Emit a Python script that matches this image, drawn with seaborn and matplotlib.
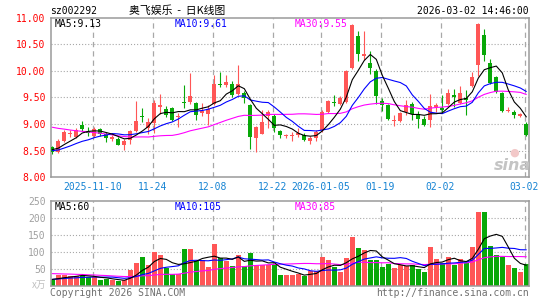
import numpy as np
import pandas as pd
import matplotlib
matplotlib.use("Agg")
import matplotlib.pyplot as plt
import seaborn as sns

# ---------------- data ----------------
tick_labels = ['2025-11-10', '11-24', '12-08', '12-22', '2026-01-05', '01-19', '02-02', '03-02']
tick_index = [7, 17, 27, 37, 45, 55, 65, 79]

opens = [8.56, 8.47, 8.68, 8.81, 8.76, 8.99, 8.86, 8.78, 8.90, 8.81,
         8.71, 8.72, 8.61, 8.70, 8.87, 9.15, 8.93, 9.02, 9.32, 9.28,
         9.30, 9.13, 9.41, 9.42, 9.40, 9.20, 9.18, 9.38, 9.76, 9.74,
         9.76, 9.57, 9.58, 9.35, 8.73, 8.82, 9.15, 9.16, 8.86, 8.77,
         8.78, 8.80, 8.80, 8.69, 8.74, 8.88, 9.23, 9.41, 9.38, 9.42,
         10.06, 10.65, 10.27, 10.14, 9.99, 9.43, 9.35, 9.05, 9.05, 9.23,
         9.38, 9.18, 9.09, 9.08, 9.32, 9.30, 9.38, 9.54, 9.40, 9.48,
         9.71, 10.10, 10.68, 10.15, 9.88, 9.59, 9.24, 9.23, 9.16, 9.00]
highs = [8.59, 8.71, 8.88, 8.89, 8.93, 9.05, 8.94, 8.95, 8.93, 8.85,
         8.79, 8.76, 8.71, 8.89, 9.44, 9.30, 9.12, 9.45, 9.57, 9.33,
         9.32, 9.20, 9.73, 9.96, 9.42, 9.40, 9.35, 9.92, 9.97, 9.92,
         9.80, 10.10, 9.62, 9.38, 8.96, 9.26, 9.26, 9.18, 8.88, 8.82,
         8.85, 8.92, 8.84, 8.78, 8.88, 9.26, 9.45, 9.54, 9.53, 10.01,
         10.88, 10.75, 10.74, 10.37, 10.03, 9.49, 9.38, 9.17, 9.23, 9.45,
         9.42, 9.25, 9.16, 9.56, 9.40, 9.55, 9.66, 9.66, 9.72, 9.64,
         9.97, 10.89, 10.79, 10.22, 9.91, 9.61, 9.32, 9.27, 9.20, 9.04]
lows = [8.44, 8.45, 8.67, 8.75, 8.73, 8.86, 8.77, 8.75, 8.78, 8.66,
        8.68, 8.60, 8.51, 8.62, 8.85, 9.03, 8.82, 8.84, 9.19, 9.14,
        9.05, 8.95, 9.30, 9.38, 9.07, 9.16, 8.98, 9.35, 9.69, 9.70,
        9.50, 9.55, 9.40, 8.53, 8.47, 8.81, 8.92, 8.85, 8.73, 8.74,
        8.69, 8.76, 8.68, 8.63, 8.68, 8.85, 9.20, 9.34, 9.36, 9.40,
        10.03, 10.19, 10.20, 9.93, 9.37, 9.25, 9.08, 8.97, 9.03, 9.17,
        9.08, 8.93, 8.96, 8.94, 9.22, 9.22, 9.36, 9.32, 9.38, 9.17,
        9.70, 9.90, 10.19, 9.76, 9.59, 9.23, 9.22, 9.11, 9.13, 8.78]
closes = [8.47, 8.68, 8.85, 8.84, 8.88, 8.91, 8.83, 8.90, 8.82, 8.74,
          8.76, 8.61, 8.68, 8.87, 9.05, 9.13, 9.04, 9.40, 9.36, 9.17,
          9.08, 9.16, 9.39, 9.53, 9.17, 9.24, 9.29, 9.75, 9.74, 9.79,
          9.55, 9.76, 9.48, 8.75, 8.94, 9.04, 9.23, 8.92, 8.79, 8.79,
          8.80, 8.84, 8.70, 8.73, 8.85, 9.23, 9.43, 9.39, 9.49, 9.99,
          10.86, 10.31, 10.32, 10.05, 9.53, 9.36, 9.10, 9.07, 9.20, 9.35,
          9.18, 9.10, 8.99, 9.34, 9.36, 9.26, 9.59, 9.51, 9.58, 9.46,
          9.89, 10.87, 10.30, 9.77, 9.61, 9.25, 9.27, 9.17, 9.18, 8.80]
volumes = [15, 32, 32, 29, 27, 29, 25, 25, 15, 19,
           15, 13, 15, 45, 65, 84, 60, 99, 90, 52,
           35, 35, 108, 108, 72, 75, 54, 123, 80, 72,
           57, 90, 57, 96, 60, 60, 60, 60, 30, 30,
           30, 34, 29, 42, 42, 85, 75, 55, 39, 82,
           142, 112, 105, 75, 75, 55, 64, 52, 60, 57,
           59, 49, 39, 114, 77, 67, 84, 60, 77, 65,
           114, 217, 217, 116, 90, 84, 60, 52, 40, 62]
# sessions before the visible window (needed for the moving averages)
prev_closes = [9.32, 9.28, 9.35, 9.30, 9.22, 9.18, 9.25, 9.20, 9.22, 9.18,
               9.15, 9.10, 9.12, 9.05, 9.08, 9.10, 9.02, 9.05, 9.00, 9.03,
               8.55, 8.48, 8.45, 8.42, 8.50, 8.55, 8.50, 8.52, 8.56]
prev_volumes = [45, 52, 38, 48, 41, 55, 40, 44, 39, 47,
                44, 40, 48, 43, 38, 46, 42, 41, 39, 40,
                18, 20, 16, 19, 17, 21, 18, 19, 17]

# ---------------- derived ----------------
n = len(closes)
idx = np.arange(n)
o = np.array(opens); h = np.array(highs); l = np.array(lows); c = np.array(closes)
v = np.array(volumes)
full_c = pd.Series(prev_closes + closes)
full_v = pd.Series(prev_volumes + volumes)
ma = {k: full_c.rolling(k).mean().values[-n:] for k in (5, 10, 30)}
vma = {k: full_v.rolling(k).mean().values[-n:] for k in (5, 10, 30)}

RED = '#ff5656'
GREEN = '#08a808'
up = c >= o
cols = np.where(up, RED, GREEN)

sns.set_theme(style="white")
plt.rcParams['font.family'] = ['DejaVu Sans Mono', 'Noto Sans CJK SC']
plt.rcParams['lines.scale_dashes'] = False

W, H = 545, 300
fig = plt.figure(figsize=(W / 100, H / 100), dpi=100)
fig.patch.set_facecolor('white')

def box(x0, y0, x1, y1):
    return [x0 / W, 1 - y1 / H, (x1 - x0) / W, (y1 - y0) / H]

ax = fig.add_axes(box(50.5, 17.5, 529, 177.3))
axv = fig.add_axes(box(50.5, 200.7, 529, 285.5))

XL = (-0.3, 79.45)
grid_x = [t - 0.3 for t in tick_index]
FRAME = '#9a9a9a'
GRID = '#a8a8a8'
LW = 0.8

for a in (ax, axv):
    a.set_facecolor('white')
    a.set_xlim(*XL)
    for s in a.spines.values():
        s.set_color(FRAME)
        s.set_linewidth(1.1)
    for gx in grid_x:
        a.axvline(gx, color=GRID, lw=0.9, ls=(0, (3.8, 2.9)), zorder=0.5)
    a.tick_params(length=0)

# ---- price panel ----
ax.set_ylim(8.0, 11.0)
for gy in [8.5, 9.0, 9.5, 10.0, 10.5]:
    ax.axhline(gy, color=GRID, lw=0.8, ls=(0, (0.8, 1.4)), zorder=0.5)

ax.vlines(idx, l, h, colors=cols, lw=0.8, zorder=2)
body_h = np.maximum(np.abs(c - o), 0.015)
body_b = np.minimum(o, c)
ax.bar(idx, body_h, bottom=body_b, width=0.68, color=cols, linewidth=0, zorder=3)

ma_df = pd.DataFrame({'i': idx, 'ma5': ma[5], 'ma10': ma[10], 'ma30': ma[30]})
sns.lineplot(data=ma_df, x='i', y='ma30', color='#ff00ff', lw=LW, ax=ax, zorder=4)
sns.lineplot(data=ma_df, x='i', y='ma10', color='#0000ff', lw=LW, ax=ax, zorder=4)
sns.lineplot(data=ma_df, x='i', y='ma5', color='black', lw=LW, ax=ax, zorder=5)

ax.set_yticks([8.0, 8.5, 9.0, 9.5, 10.0, 10.5, 11.0])
ax.set_yticklabels([f'{t:.2f}' for t in [8.0, 8.5, 9.0, 9.5, 10.0, 10.5, 11.0]],
                   color='#ff0000', fontsize=7)
ax.set_xticks(grid_x)
ax.set_xticklabels(tick_labels, color='#1583d3', fontsize=7)
ax.tick_params(axis='y', pad=3.5)
ax.tick_params(axis='x', pad=3.2)
ax.set_xlabel(''); ax.set_ylabel('')

# ---- volume panel ----
axv.set_ylim(0, 250)
for gy in [50, 100, 150, 200]:
    axv.axhline(gy, color=GRID, lw=0.8, ls=(0, (0.8, 1.4)), zorder=0.5)
axv.bar(idx, v, width=0.78, color=cols, linewidth=0, zorder=2)
vma_df = pd.DataFrame({'i': idx, 'v5': vma[5], 'v10': vma[10], 'v30': vma[30]})
sns.lineplot(data=vma_df, x='i', y='v30', color='#ff00ff', lw=LW, ax=axv, zorder=4)
sns.lineplot(data=vma_df, x='i', y='v10', color='#0000ff', lw=LW, ax=axv, zorder=4)
sns.lineplot(data=vma_df, x='i', y='v5', color='black', lw=LW, ax=axv, zorder=5)
axv.set_yticks([50, 100, 150, 200, 250])
axv.set_yticklabels(['50', '100', '150', '200', '250'], color='#a0a0a0', fontsize=7)
axv.tick_params(axis='y', pad=3.5)
axv.set_xticks([])
axv.set_xlabel(''); axv.set_ylabel('')

# ---- texts ----
def ftext(x, y, s, **kw):
    fig.text(x / W, 1 - y / H, s, **kw)

ftext(50, 11, 'sz002292', fontsize=7, color='black', va='center', ha='left')
ftext(177.5, 11, '奥飞娱乐  -  日K线图', fontsize=7.8, color='black', va='center', ha='center',
      family=['Noto Sans CJK SC', 'DejaVu Sans'])
ftext(528.5, 11, '2026-03-02 14:46:00', fontsize=7, color='black', va='center', ha='right')

ftext(55, 24, f'MA5:{ma[5][-1]:.2f}', fontsize=7, color='black', va='center', ha='left')
ftext(175, 24, f'MA10:{ma[10][-1]:.2f}', fontsize=7, color='#0000ff', va='center', ha='left')
ftext(295, 24, f'MA30:{ma[30][-1]:.2f}', fontsize=7, color='#ff00ff', va='center', ha='left')

ftext(55, 206.5, f'MA5:{vma[5][-1]:.0f}', fontsize=7, color='black', va='center', ha='left')
ftext(175, 206.5, f'MA10:{vma[10][-1]:.0f}', fontsize=7, color='#0000ff', va='center', ha='left')
ftext(295, 206.5, f'MA30:{vma[30][-1]:.0f}', fontsize=7, color='#ff00ff', va='center', ha='left')

ftext(46, 285, 'x万', fontsize=7, color='#c0c0c0', va='center', ha='right',
      family=['Noto Sans CJK SC', 'DejaVu Sans'])
ftext(50, 292.5, 'Copyright 2026 SINA.COM', fontsize=7, color='#707070', va='center', ha='left')
ftext(529, 292.5, 'http://finance.sina.com.cn', fontsize=7, color='#707070', va='center', ha='right')

# sina watermark
ftext(512, 166, 'sina', fontsize=11.5, color='#c4c4c4', va='center', ha='center',
      family='DejaVu Sans', weight='bold', style='italic')
ftext(514, 153, '●', fontsize=8, color='#f2c8c8', va='center', ha='center', family='DejaVu Sans')

fig.savefig('out.png', dpi=100, facecolor='white')
